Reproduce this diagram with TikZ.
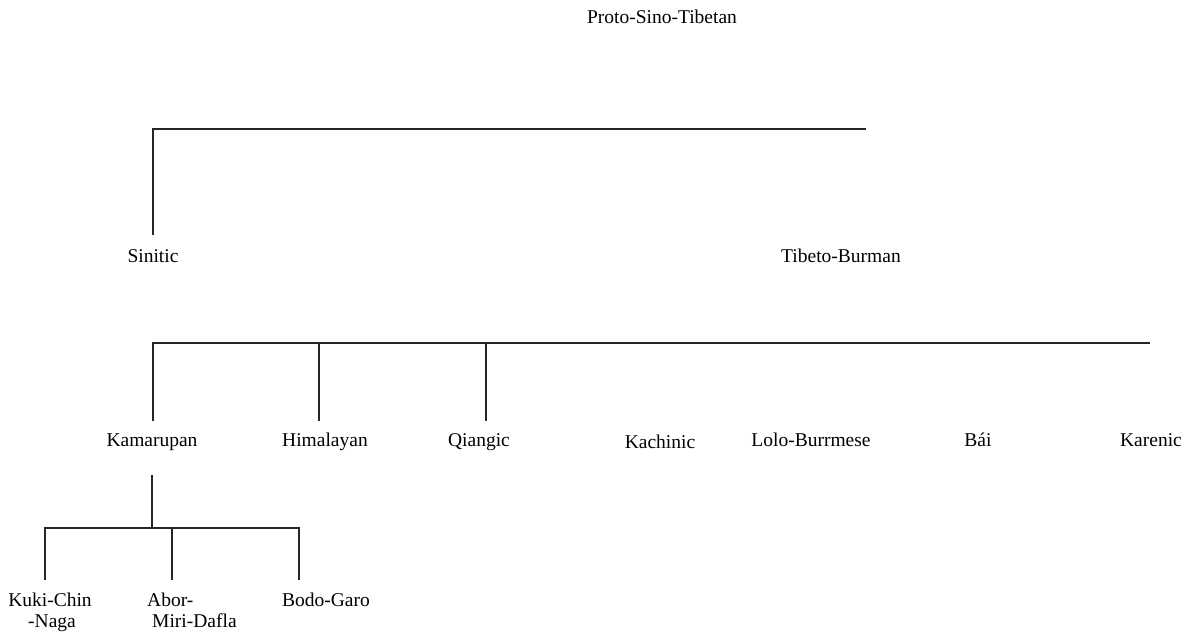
\documentclass[tikz,border=0pt]{standalone}
\usepackage{fontspec}
\setmainfont{Liberation Serif}
\begin{document}
\begin{tikzpicture}[x=1pt,y=-1pt,
  lab/.style={inner sep=0pt,anchor=base,font=\fontsize{19.5}{22}\selectfont},
  labw/.style={inner sep=0pt,anchor=base west,font=\fontsize{19.5}{22}\selectfont},
  edge/.style={line width=1.1pt,draw=black!85}]
\useasboundingbox (0,0) rectangle (1191,632);
% labels
\node[lab] (pst) at (662,23) {Proto-Sino-Tibetan};
\node[lab] (sin) at (153,262) {Sinitic};
\node[lab] (tb) at (841,262) {Tibeto-Burman};
\node[lab] (kam) at (152,446) {Kamarupan};
\node[lab] (him) at (325,446) {Himalayan};
\node[lab] (qia) at (479,446) {Qiangic};
\node[lab] (kac) at (660,448) {Kachinic};
\node[lab] (lolo) at (811,446) {Lolo-Burrmese};
\node[lab] (bai) at (978,446) {Bái};
\node[lab] (kar) at (1151,446) {Karenic};
\node[lab] (kuki) at (50,606) {Kuki-Chin};
\node[lab] (naga) at (52,627) {-Naga};
\node[labw] (abor) at (147,606) {Abor-};
\node[labw] (miri) at (152,627) {Miri-Dafla};
\node[lab] (bodo) at (326,606) {Bodo-Garo};
% connector coordinates
\coordinate (r1a) at (153,129);
\coordinate (r1b) at (866,129);
\coordinate (sinTop) at (153,235);
\coordinate (r2a) at (153,343);
\coordinate (r2h) at (319,343);
\coordinate (r2q) at (486,343);
\coordinate (r2b) at (1150,343);
\coordinate (kamTop) at (153,421);
\coordinate (himTop) at (319,421);
\coordinate (qiaTop) at (486,421);
\coordinate (kamBot) at (152,475);
\coordinate (r3m) at (152,528);
\coordinate (r3a) at (45,528);
\coordinate (r3c) at (172,528);
\coordinate (r3b) at (299,528);
\coordinate (kukiTop) at (45,580);
\coordinate (aborTop) at (172,580);
\coordinate (bodoTop) at (299,580);
% connectors
\draw[edge] (sinTop) -- (r1a) -- (r1b);
\draw[edge] (kamTop) -- (r2a) -- (r2b);
\draw[edge] (r2h) -- (himTop);
\draw[edge] (r2q) -- (qiaTop);
\draw[edge] (kamBot) -- (r3m);
\draw[edge] (kukiTop) -- (r3a) -- (r3b) -- (bodoTop);
\draw[edge] (r3c) -- (aborTop);
\end{tikzpicture}
\end{document}
